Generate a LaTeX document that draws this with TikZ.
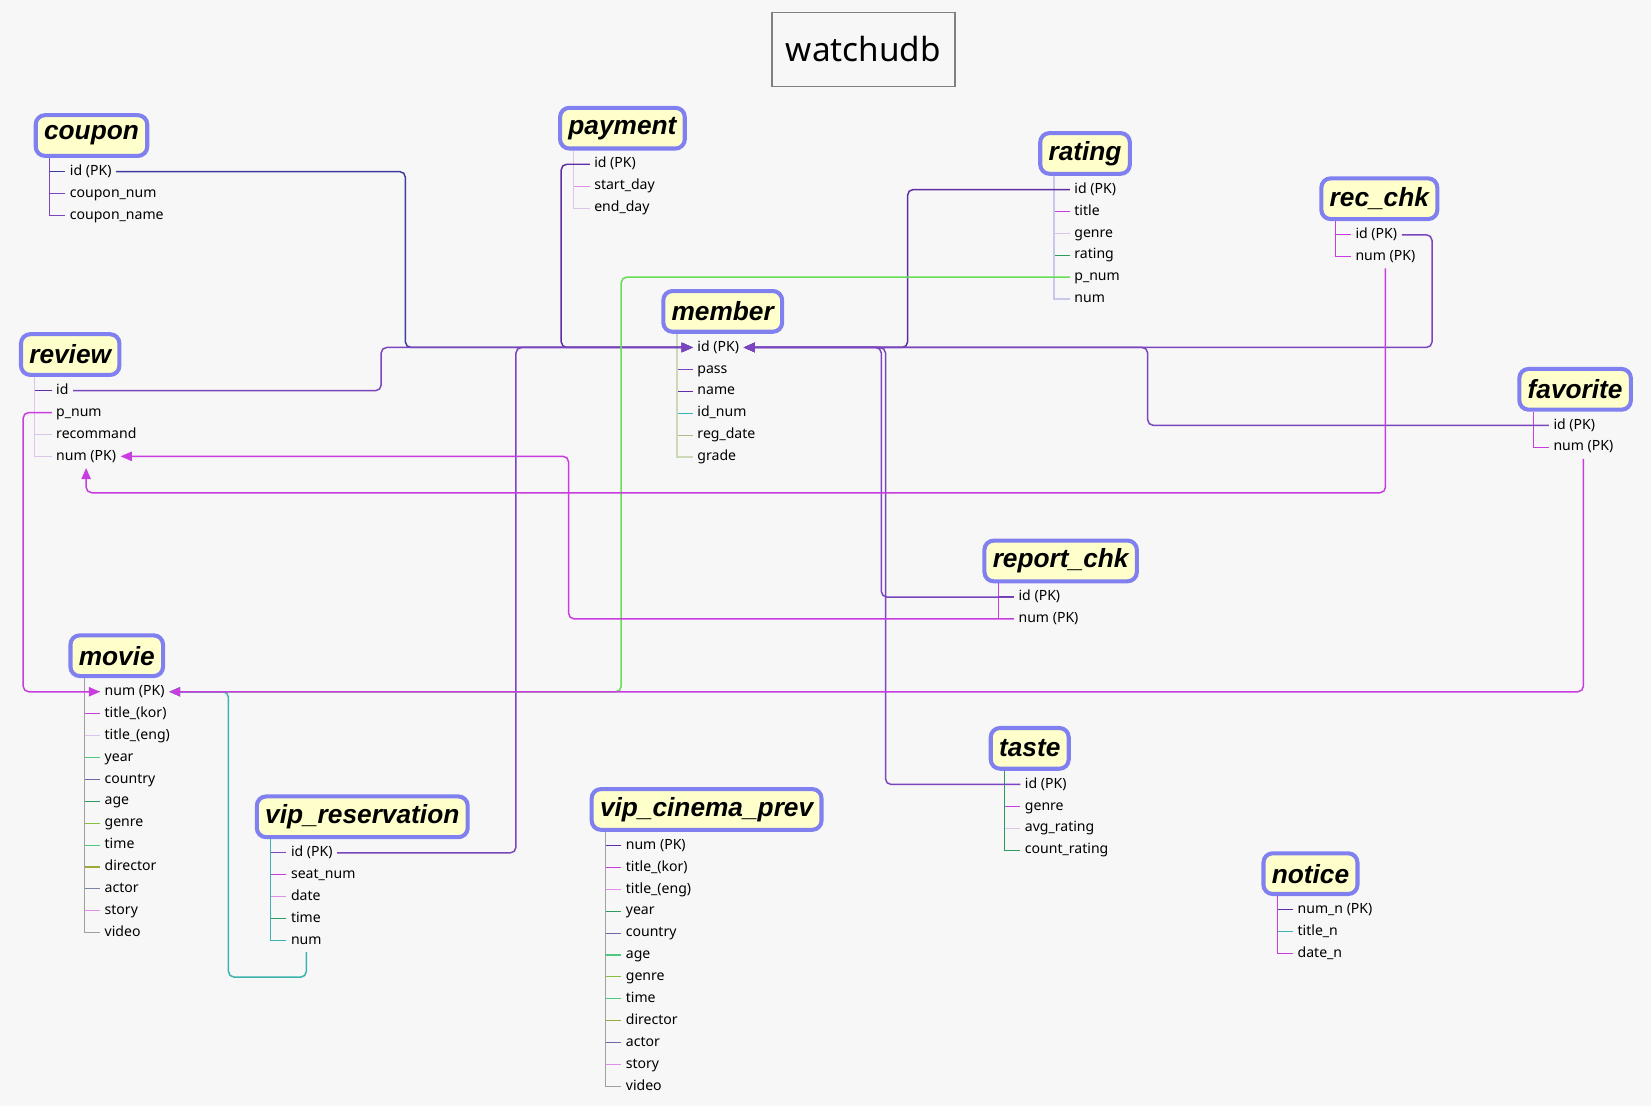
\documentclass[tikz,border=0pt]{standalone}
\usepackage{fontspec}
\setmainfont{Noto Sans}
\newfontfamily\hdrfont{Liberation Sans}
\usepackage{tikz}
\definecolor{bgcol}{HTML}{F7F7F7}
\definecolor{hdrline}{HTML}{8080F0}
\definecolor{hdrfill}{HTML}{FFFFCC}
\definecolor{ttlline}{HTML}{808080}
\definecolor{cnavy}{HTML}{3C3CA0}
\definecolor{cplum}{HTML}{5E2CA5}
\definecolor{cviolet}{HTML}{7A45BE}
\definecolor{cmag}{HTML}{C83CE0}
\definecolor{cpink}{HTML}{E090E8}
\definecolor{clilac}{HTML}{DCC4EA}
\definecolor{clav}{HTML}{C8C8EC}
\definecolor{cgreen}{HTML}{66DD55}
\definecolor{cdgreen}{HTML}{2E9B5E}
\definecolor{cmint}{HTML}{4CCB7C}
\definecolor{cteal}{HTML}{3BB3B0}
\definecolor{cslate}{HTML}{6A6AA8}
\definecolor{colive}{HTML}{A0A838}
\definecolor{clime}{HTML}{86C03C}
\definecolor{ckhaki}{HTML}{B8B888}
\definecolor{csage}{HTML}{CCD8B8}
\definecolor{cgrey}{HTML}{A0A0A0}
\definecolor{csteel}{HTML}{7888A0}
\definecolor{cink}{HTML}{304860}
\usetikzlibrary{arrows.meta,calc,positioning}
\tikzset{>={Triangle[length=6pt,width=5pt]}}

\begin{document}
\begin{tikzpicture}[x=0.02cm, y=-0.02cm,
    tbl/.style = {draw=hdrline, line width=2.2pt, fill=hdrfill, rounded corners=5pt, anchor=south west, minimum height=22pt, inner xsep=4.5pt, font=\fontsize{14.2}{15}\hdrfont\bfseries\itshape},
    field/.style = {anchor=west, inner sep=1pt, outer sep=1.5pt, text height=5.8pt, text depth=1.8pt, font=\fontsize{7.6}{9}\selectfont},
    tick/.style = {line width=0.6pt},
    fk/.style = {line width=0.8pt, rounded corners=3pt}]
    \fill[bgcol] (0,0) rectangle (1568,1050);
    \node[draw=ttlline, line width=0.8pt, minimum width=99pt, minimum height=40pt, font=\fontsize{18}{20}\selectfont] (title) at (820,47) {watchudb};

    % tables
    \node[tbl] (coupon) at (32,150) {coupon};
    \foreach \f/\c [count=\i] in {id (PK)/cnavy, coupon\_num/cviolet, coupon\_name/cviolet}
    {%
        \node[field] (cp\i) at ($(coupon.south west)+(30,13+20.8*\i-20.8)$) {\f};
        \draw[tick,\c] ($(coupon.south west)+(15,0)$) |- (cp\i.west);
    };
    \node[tbl] (payment) at (530,143) {payment};
    \foreach \f/\c [count=\i] in {id (PK)/cplum, start\_day/cpink, end\_day/clilac}
    {%
        \node[field] (py\i) at ($(payment.south west)+(30,13+20.8*\i-20.8)$) {\f};
        \draw[tick,\c] ($(payment.south west)+(15,0)$) |- (py\i.west);
    };
    \node[tbl] (rating) at (986,167) {rating};
    \foreach \f/\c [count=\i] in {id (PK)/cplum, title/cmag, genre/clilac, rating/cdgreen, p\_num/clav, num/clav}
    {%
        \node[field] (rt\i) at ($(rating.south west)+(30,13+20.8*\i-20.8)$) {\f};
        \draw[tick,\c] ($(rating.south west)+(15,0)$) |- (rt\i.west);
    };
    \node[tbl] (recchk) at (1253,210) {rec\_chk};
    \foreach \f/\c [count=\i] in {id (PK)/cmag, num (PK)/cmag}
    {%
        \node[field] (rc\i) at ($(recchk.south west)+(30,13+20.8*\i-20.8)$) {\f};
        \draw[tick,\c] ($(recchk.south west)+(15,0)$) |- (rc\i.west);
    };
    \node[tbl] (member) at (628,317) {member};
    \foreach \f/\c [count=\i] in {id (PK)/cgrey, pass/cviolet, name/cplum, id\_num/cteal, reg\_date/ckhaki, grade/csage}
    {%
        \node[field] (mb\i) at ($(member.south west)+(30,13+20.8*\i-20.8)$) {\f};
        \draw[tick,\c] ($(member.south west)+(15,0)$) |- (mb\i.west);
    };
    \node[tbl] (review) at (18,358) {review};
    \foreach \f/\c [count=\i] in {id/cplum, p\_num/cmag, recommand/clilac, num (PK)/clilac}
    {%
        \node[field] (rv\i) at ($(review.south west)+(31,13+20.8*\i-20.8)$) {\f};
        \draw[tick,\c] ($(review.south west)+(15,0)$) |- (rv\i.west);
    };
    \node[tbl] (favorite) at (1441,391) {favorite};
    \foreach \f/\c [count=\i] in {id (PK)/cplum, num (PK)/cmag}
    {%
        \node[field] (fv\i) at ($(favorite.south west)+(30,13+20.8*\i-20.8)$) {\f};
        \draw[tick,\c] ($(favorite.south west)+(15,0)$) |- (fv\i.west);
    };
    \node[tbl] (reportchk) at (933,554) {report\_chk};
    \foreach \f/\c [count=\i] in {id (PK)/cplum, num (PK)/cmag}
    {%
        \node[field] (rp\i) at ($(reportchk.south west)+(30,13+20.8*\i-20.8)$) {\f};
        \draw[tick,\c] ($(reportchk.south west)+(15,0)$) |- (rp\i.west);
    };
    \node[tbl] (movie) at (65,644) {movie};
    \foreach \f/\c [count=\i] in {num (PK)/cmag, title\_(kor)/cmag, title\_(eng)/clilac, year/cmint, country/cslate, age/cdgreen, genre/clime, time/cmint, director/colive, actor/csteel, story/cpink, video/cgrey}
    {%
        \node[field] (mv\i) at ($(movie.south west)+(30,13+20.8*\i-20.8)$) {\f};
        \draw[tick,\c] ($(movie.south west)+(15,0)$) |- (mv\i.west);
    };
    \node[tbl] (taste) at (939,732) {taste};
    \foreach \f/\c [count=\i] in {id (PK)/cink, genre/cmag, avg\_rating/clilac, count\_rating/cdgreen}
    {%
        \node[field] (ts\i) at ($(taste.south west)+(30,13+20.8*\i-20.8)$) {\f};
        \draw[tick,\c] ($(taste.south west)+(15,0)$) |- (ts\i.west);
    };
    \node[tbl] (viprsv) at (242,797) {vip\_reservation};
    \foreach \f/\c [count=\i] in {id (PK)/cviolet, seat\_num/cmag, date/cpink, time/cdgreen, num/cteal}
    {%
        \node[field] (vr\i) at ($(viprsv.south west)+(30,13+20.8*\i-20.8)$) {\f};
        \draw[tick,\c] ($(viprsv.south west)+(15,0)$) |- (vr\i.west);
    };
    \node[tbl] (vipcin) at (560,790) {vip\_cinema\_prev};
    \foreach \f/\c [count=\i] in {num (PK)/cplum, title\_(kor)/cmag, title\_(eng)/cpink, year/cdgreen, country/cslate, age/cmint, genre/clime, time/cmint, director/colive, actor/cslate, story/cpink, video/cgrey}
    {%
        \node[field] (vc\i) at ($(vipcin.south west)+(30,13+20.8*\i-20.8)$) {\f};
        \draw[tick,\c] ($(vipcin.south west)+(15,0)$) |- (vc\i.west);
    };
    \node[tbl] (notice) at (1198,851) {notice};
    \foreach \f/\c [count=\i] in {num\_n (PK)/cplum, title\_n/cteal, date\_n/cmag}
    {%
        \node[field] (nt\i) at ($(notice.south west)+(30,13+20.8*\i-20.8)$) {\f};
        \draw[tick,\c] ($(notice.south west)+(15,0)$) |- (nt\i.west);
    };

    % links to member id
    \draw[fk,cnavy,->] (cp1.east) -| (385,250) |- (mb1.west);
    \draw[fk,cplum,->] (py1.west) -| (533,250) |- (mb1.west);
    \draw[fk,cviolet,->] (rv1.east) -| (362,350) |- (mb1.west);
    \draw[fk,cviolet,->] (vr1.east) -| (490,500) |- (mb1.west);
    \draw[fk,cplum,->] (rt1.west) -| (862,250) |- (mb1.east);
    \draw[fk,cviolet,->] (rc1.east) -| (1360,250) |- (mb1.east);
    \draw[fk,cviolet,->] (fv1.west) -| (1090,360) |- (mb1.east);
    \draw[fk,cviolet,->] (rp1.west) -| (837,450) |- (mb1.east);
    \draw[fk,cviolet,->] (ts1.west) -| (841,600) |- (mb1.east);
    % links to movie num
    \draw[fk,cmag,->] (rv2.west) -| (22,500) |- (mv1.west);
    \draw[fk,cgreen,->] (rt5.west) -| (590,500) |- (mv1.east);
    \draw[fk,cteal,->] (vr5.south) |- (250,928) -| (217,700) |- (mv1.east);
    \draw[fk,cmag,->] (fv2.south) |- (mv1.east);
    % links to review num
    \draw[fk,cmag,->] (rp2.west) -| (540,500) |- (rv4.east);
    \draw[fk,cmag,->] (rc2.south) |- (200,468) -| (rv4.south);
\end{tikzpicture}
\end{document}
